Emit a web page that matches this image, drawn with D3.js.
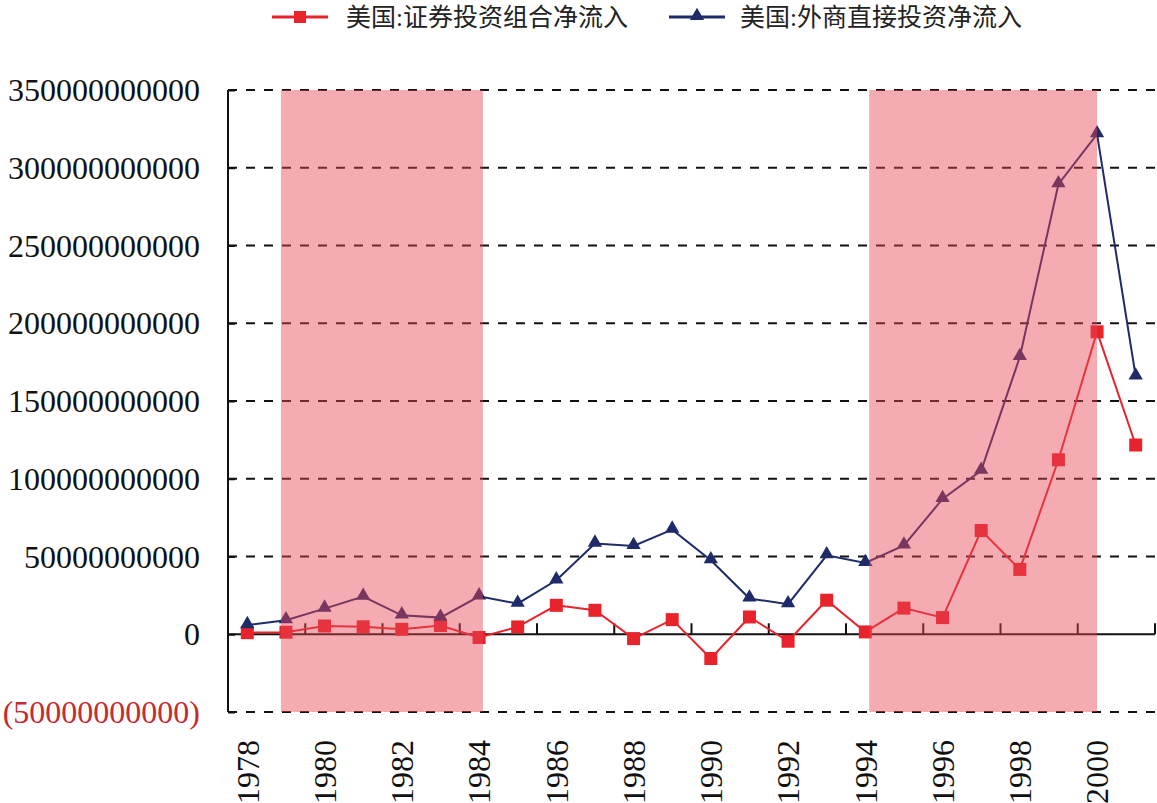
<!DOCTYPE html>
<html>
<head>
<meta charset="utf-8">
<script src="https://cdn.jsdelivr.net/npm/d3@7/dist/d3.min.js"></script>
<style>
  html, body { margin: 0; padding: 0; background: #fff; }
  svg { display: block; }
  .num { font-family: "Liberation Serif", "Times New Roman", serif; }
  .cjk { font-family: "Liberation Serif", "Noto Sans CJK SC", serif; }
</style>
</head>
<body>
<div id="chart"></div>
<script>
const years = d3.range(1978, 2002);
// 美国:证券投资组合净流入 (USD)
const portfolio = [1.0e9, 1.3e9, 5.3e9, 4.8e9, 3.2e9, 5.6e9, -2.1e9, 4.7e9, 18.6e9, 15.4e9, -2.8e9, 9.4e9,
  -15.6e9, 11.1e9, -4.5e9, 21.9e9, 1.5e9, 16.8e9, 10.7e9, 66.7e9, 41.7e9, 112.2e9, 194.5e9, 121.7e9];
// 美国:外商直接投资净流入 (USD)
const fdi = [5.9e9, 9.0e9, 16.5e9, 24.2e9, 12.2e9, 10.7e9, 24.4e9, 19.7e9, 34.7e9, 58.3e9, 56.8e9, 67.3e9,
  47.6e9, 23.0e9, 19.3e9, 50.8e9, 45.9e9, 57.1e9, 87.0e9, 105.2e9, 178.3e9, 289.4e9, 321.6e9, 165.8e9];
const yTicks = [-50e9, 0, 50e9, 100e9, 150e9, 200e9, 250e9, 300e9, 350e9];
const xLabels = d3.range(1978, 2002, 2);
// shaded periods, in fractional years
const shades = [[1978.87, 1984.1], [1994.1, 2000.0]];
const legendNames = ['美国:证券投资组合净流入', '美国:外商直接投资净流入'];

const W = 1157, H = 803;
const m = { left: 228, right: 2, top: 90, bottom: 91 };
const RED = '#e8232c', BLUE = '#1f2a68';

const svg = d3.select('#chart').append('svg').attr('width', W).attr('height', H);

const x = d3.scaleBand().domain(years).range([m.left, 1155]).padding(0);
const bw = x.bandwidth();
const cx = yr => x(yr) + bw / 2;
const xYear = v => m.left + (v - years[0]) * bw + bw / 2;
const y = d3.scaleLinear().domain([-50e9, 350e9]).range([H - m.bottom, m.top]);

// dashed grid
svg.append('g').selectAll('line').data(yTicks.filter(d => d !== 0)).join('line')
  .attr('x1', m.left).attr('x2', W).attr('y1', d => y(d)).attr('y2', d => y(d))
  .attr('stroke', '#111').attr('stroke-width', 2).attr('stroke-dasharray', '9,9');

// axes
const yAxis = d3.axisRight(y).tickValues(yTicks).tickSize(7).tickFormat('');
const gy = svg.append('g').attr('transform', `translate(${m.left},0)`).call(yAxis);
gy.select('.domain').attr('stroke', '#111').attr('stroke-width', 2).attr('d', `M0,${y(350e9)}V${y(-50e9)}`);
gy.selectAll('.tick line').attr('stroke', '#111').attr('stroke-width', 2);

svg.append('line').attr('x1', m.left).attr('x2', 1155).attr('y1', y(0)).attr('y2', y(0))
  .attr('stroke', '#111').attr('stroke-width', 2);
const bounds = d3.range(2, years.length + 1, 2).map(i => m.left + i * bw);
svg.append('g').selectAll('line').data(bounds).join('line')
  .attr('x1', d => d).attr('x2', d => d).attr('y1', y(0)).attr('y2', y(0) - 11)
  .attr('stroke', '#111').attr('stroke-width', 2);

// y labels
svg.append('g').selectAll('text').data(yTicks).join('text')
  .attr('class', 'num').attr('x', 200).attr('y', d => y(d)).attr('dy', '0.35em')
  .attr('text-anchor', 'end').attr('font-size', 32)
  .attr('fill', d => d < 0 ? '#c8282e' : '#111')
  .text(d => d < 0 ? `(${Math.abs(d)})` : `${d}`);

// x labels
svg.append('g').selectAll('text').data(xLabels).join('text')
  .attr('class', 'num').attr('font-size', 32).attr('fill', '#111')
  .attr('text-anchor', 'end').attr('dy', '0.35em')
  .attr('transform', d => `translate(${cx(d)},740) rotate(-90)`)
  .text(d => d);

// series
const line = d3.line().x((d, i) => cx(years[i])).y(d => y(d));
svg.append('path').datum(portfolio).attr('d', line).attr('fill', 'none').attr('stroke', RED).attr('stroke-width', 2);
svg.append('path').datum(fdi).attr('d', line).attr('fill', 'none').attr('stroke', BLUE).attr('stroke-width', 2);

const sq = 13;
svg.append('g').selectAll('rect').data(portfolio).join('rect')
  .attr('x', (d, i) => cx(years[i]) - sq / 2).attr('y', d => y(d) - sq / 2)
  .attr('width', sq).attr('height', sq).attr('fill', RED);
const tri = d3.symbol().type(d3.symbolTriangle).size(88);
svg.append('g').selectAll('path').data(fdi).join('path')
  .attr('transform', (d, i) => `translate(${cx(years[i])},${y(d) - 1})`)
  .attr('d', tri).attr('fill', BLUE);

// shaded periods on top, translucent
svg.append('g').selectAll('rect').data(shades).join('rect')
  .attr('x', d => xYear(d[0])).attr('width', d => xYear(d[1]) - xYear(d[0]))
  .attr('y', y(350e9)).attr('height', y(-50e9) - y(350e9))
  .attr('fill', 'rgb(230,70,85)').attr('fill-opacity', 0.45);

// legend
const lg = svg.append('g');
const items = [
  { name: legendNames[0], color: RED, x0: 272, tx: 346, mark: 'sq' },
  { name: legendNames[1], color: BLUE, x0: 669, tx: 740, mark: 'tri' }
];
items.forEach(it => {
  lg.append('line').attr('x1', it.x0).attr('x2', it.x0 + 56).attr('y1', 17).attr('y2', 17)
    .attr('stroke', it.color).attr('stroke-width', 3);
  if (it.mark === 'sq') {
    lg.append('rect').attr('x', it.x0 + 28 - 6).attr('y', 11).attr('width', 12).attr('height', 12).attr('fill', it.color);
  } else {
    lg.append('path').attr('transform', `translate(${it.x0 + 28},16)`).attr('d', tri).attr('fill', it.color);
  }
  lg.append('text').attr('class', 'cjk').attr('x', it.tx).attr('y', 17).attr('dy', '0.35em')
    .attr('font-size', 25).attr('fill', '#222').text(it.name);
});
</script>
</body>
</html>
